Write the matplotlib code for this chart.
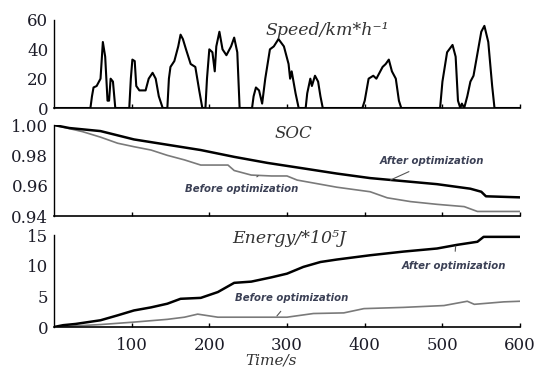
import matplotlib
matplotlib.use('Agg')
import matplotlib.pyplot as plt

# speed profile (km/h)
speed_t = [0, 47, 49, 51, 55, 58, 60, 63, 66, 69, 71, 73, 76, 79,
           97, 99, 101, 104, 106, 110, 118, 122, 127, 131, 135, 140,
           146, 148, 150, 155, 160, 163, 166, 170, 176, 182, 187, 191,
           195, 197, 200, 204, 207, 209, 213, 217, 222, 228, 232, 236, 239,
           255, 257, 260, 264, 268, 272, 278, 283, 289, 296, 302, 304, 306, 311, 315,
           324, 326, 330, 332, 336, 340, 343, 346,
           397, 400, 405, 411, 415, 423, 427, 431, 435, 440, 444, 447,
           497, 500, 506, 513, 517, 520, 523, 525, 528, 532, 536, 540,
           546, 550, 554, 559, 564, 567, 600]
speed_v = [0, 0, 8, 14, 15, 18, 20, 45, 35, 5, 5, 20, 18, 0,
           0, 20, 33, 32, 15, 12, 12, 20, 24, 20, 8, 0,
           0, 20, 28, 32, 42, 50, 47, 40, 30, 28, 12, 0,
           0, 20, 40, 38, 25, 42, 52, 40, 36, 42, 48, 38, 0,
           0, 8, 14, 12, 3, 20, 40, 42, 47, 42, 30, 20, 25, 10, 0,
           0, 10, 20, 15, 22, 18, 8, 0,
           0, 5, 20, 22, 20, 28, 30, 33, 25, 20, 5, 0,
           0, 18, 38, 43, 35, 5, 0, 3, 0, 8, 18, 22,
           40, 52, 56, 45, 15, 0, 0]

# state of charge
soc_after_t = [0, 20, 60, 103, 146, 189, 232, 275, 321, 364, 407, 450, 493, 536, 550, 556, 600]
soc_after_v = [1.0, 0.998, 0.996, 0.9905, 0.987, 0.9835, 0.979, 0.975, 0.9714, 0.968,
               0.965, 0.963, 0.961, 0.958, 0.956, 0.953, 0.9523]
soc_before_t = [0, 37, 60, 82, 103, 125, 146, 168, 189, 211, 224, 232, 254, 280, 300,
                313, 364, 407, 429, 459, 493, 528, 545, 600]
soc_before_v = [1.0, 0.9956, 0.992, 0.988, 0.9857, 0.9835, 0.980, 0.977, 0.9736, 0.9736,
                0.9736, 0.970, 0.967, 0.9664, 0.9664, 0.9637, 0.959, 0.956, 0.952, 0.9495,
                0.9477, 0.9462, 0.943, 0.943]

# energy (*10^5 J)
en_after_t = [0, 12, 28, 60, 82, 103, 125, 146, 163, 189, 211, 232, 254, 280, 300, 321,
              343, 364, 407, 450, 493, 519, 545, 553, 600]
en_after_v = [0, 0.3, 0.5, 1.1, 1.9, 2.7, 3.2, 3.8, 4.6, 4.75, 5.7, 7.2, 7.4, 8.1, 8.7, 9.8,
              10.6, 11.0, 11.7, 12.3, 12.8, 13.4, 13.9, 14.7, 14.7]
en_before_t = [0, 60, 103, 146, 168, 185, 211, 280, 300, 334, 373, 399, 450, 502, 532, 541, 579, 600]
en_before_v = [0, 0.4, 0.8, 1.25, 1.6, 2.1, 1.6, 1.6, 1.6, 2.2, 2.3, 3.0, 3.2, 3.5, 4.2, 3.7, 4.1, 4.2]

xticks = [100, 200, 300, 400, 500, 600]

serif = ['DejaVu Serif']
tick_col = '#1c1c28'
note_col = '#3b4055'
grey = '#7a7a7a'

fig = plt.figure(figsize=(5.39, 3.69), dpi=100)
L, W = 0.100, 0.865
ax1 = fig.add_axes([L, 0.7073, W, 0.2385])
ax2 = fig.add_axes([L, 0.4146, W, 0.2466])
ax3 = fig.add_axes([L, 0.1138, W, 0.2493])


def style(ax, ylim, yticks, ylabels):
    ax.set_xlim(0, 600)
    ax.set_ylim(*ylim)
    for s in ['top', 'right']:
        ax.spines[s].set_visible(False)
    ax.spines['left'].set_linewidth(1.0)
    ax.spines['bottom'].set_linewidth(1.2)
    ax.set_yticks(yticks)
    ax.set_yticklabels(ylabels, family=serif, fontsize=12, color=tick_col)
    ax.set_yticks([ylim[1]], minor=True)
    ax.tick_params(axis='y', which='major', length=0, pad=4)
    ax.tick_params(axis='y', which='minor', direction='in', length=4, width=1)
    ax.set_xticks(xticks)
    ax.tick_params(axis='x', direction='in', length=3, width=1, pad=7)


def note(ax, label, xy, xytext):
    ax.annotate(label, xy=xy, xytext=xytext, ha='center', va='center',
                fontsize=7.3, style='italic', weight='bold', color=note_col,
                arrowprops=dict(arrowstyle='-', color='#555555', lw=0.8,
                                shrinkA=5, shrinkB=0))


ax1.plot(speed_t, speed_v, color='black', lw=1.5)
style(ax1, (0, 60), [0, 20, 40, 60], ['0', '20', '40', '60'])
ax1.set_xticklabels([])
ax1.text(0.586, 0.886, 'Speed/km*h⁻¹', transform=ax1.transAxes, ha='center', va='center',
         family=serif, style='italic', fontsize=12.5, color='#333333')

ax2.plot(soc_before_t, soc_before_v, color=grey, lw=1.2)
ax2.plot(soc_after_t, soc_after_v, color='black', lw=1.8)
style(ax2, (0.94, 1.00), [0.94, 0.96, 0.98, 1.00], ['0.94', '0.96', '0.98', '1.00'])
ax2.set_xticklabels([])
ax2.text(0.513, 0.912, 'SOC', transform=ax2.transAxes, ha='center', va='center',
         family=serif, style='italic', fontsize=12, color='#333333')
note(ax2, 'After optimization', (433, 0.9637), (487, 0.9763))
note(ax2, 'Before optimization', (263, 0.9666), (242, 0.9578))

ax3.plot(en_before_t, en_before_v, color=grey, lw=1.2)
ax3.plot(en_after_t, en_after_v, color='black', lw=1.8)
style(ax3, (0, 15), [0, 5, 10, 15], ['0', '5', '10', '15'])
ax3.set_xticklabels([str(v) for v in xticks], family=serif, fontsize=12, color=tick_col)
ax3.text(0.504, 0.967, 'Energy/*10⁵J', transform=ax3.transAxes, ha='center', va='center',
         family=serif, style='italic', fontsize=12.5, color='#333333')
note(ax3, 'After optimization', (517, 13.2), (515, 9.95))
note(ax3, 'Before optimization', (287, 1.8), (306, 4.7))

fig.text(0.503, 0.004, 'Time/s', ha='center', va='bottom', family=serif,
         style='italic', fontsize=11, color='#333333')

fig.savefig('out.png', dpi=100)
